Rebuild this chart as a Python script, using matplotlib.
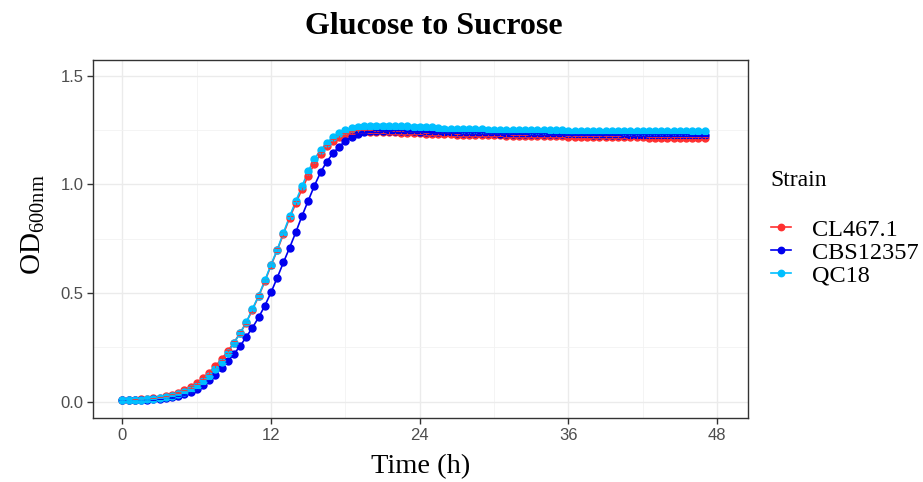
import matplotlib
matplotlib.use("Agg")
import matplotlib.pyplot as plt
from matplotlib.lines import Line2D
import numpy as np

plt.rcParams['mathtext.fontset'] = 'custom'
plt.rcParams['mathtext.rm'] = 'Liberation Serif'

# sampling every 0.5 h, 0 to 47 h
time_h = np.arange(0, 47.5, 0.5)

strains = ["CL467.1", "CBS12357", "QC18"]
colors = ["#FF3030", "#0000EE", "#00BFFF"]

od_cl467 = [0.008, 0.009, 0.010, 0.011, 0.013, 0.015, 0.019, 0.025, 0.033, 0.042,
            0.053, 0.067, 0.085, 0.108, 0.134, 0.163, 0.196, 0.232, 0.272, 0.316,
            0.364, 0.424, 0.485, 0.554, 0.627, 0.697, 0.772, 0.846, 0.913, 0.978,
            1.040, 1.095, 1.140, 1.175, 1.200, 1.220, 1.232, 1.240, 1.243, 1.244,
            1.243, 1.242, 1.241, 1.240, 1.239, 1.238, 1.236, 1.236, 1.235, 1.233,
            1.233, 1.232, 1.230, 1.230, 1.229, 1.229, 1.228, 1.227, 1.227, 1.227,
            1.226, 1.226, 1.225, 1.224, 1.224, 1.224, 1.223, 1.222, 1.222, 1.222,
            1.221, 1.221, 1.220, 1.219, 1.219, 1.219, 1.219, 1.218, 1.218, 1.217,
            1.217, 1.217, 1.216, 1.216, 1.216, 1.215, 1.215, 1.215, 1.215, 1.214,
            1.214, 1.214, 1.213, 1.213, 1.213]
od_cbs12357 = [0.007, 0.008, 0.008, 0.009, 0.010, 0.011, 0.013, 0.017, 0.021, 0.027,
               0.035, 0.044, 0.057, 0.076, 0.099, 0.125, 0.154, 0.186, 0.219, 0.256,
               0.298, 0.341, 0.388, 0.442, 0.503, 0.571, 0.641, 0.709, 0.780, 0.855,
               0.925, 0.994, 1.056, 1.105, 1.143, 1.174, 1.200, 1.220, 1.232, 1.240,
               1.244, 1.246, 1.247, 1.247, 1.246, 1.246, 1.245, 1.244, 1.243, 1.242,
               1.241, 1.240, 1.239, 1.239, 1.238, 1.237, 1.237, 1.236, 1.236, 1.235,
               1.235, 1.234, 1.234, 1.233, 1.233, 1.233, 1.232, 1.232, 1.232, 1.231,
               1.231, 1.231, 1.230, 1.230, 1.230, 1.230, 1.229, 1.229, 1.229, 1.229,
               1.229, 1.228, 1.228, 1.228, 1.228, 1.228, 1.227, 1.227, 1.227, 1.227,
               1.227, 1.227, 1.226, 1.226, 1.226]
od_qc18 = [0.006, 0.008, 0.009, 0.010, 0.011, 0.013, 0.016, 0.021, 0.027, 0.035,
           0.045, 0.057, 0.073, 0.094, 0.119, 0.149, 0.183, 0.224, 0.269, 0.315,
           0.365, 0.427, 0.488, 0.558, 0.631, 0.700, 0.777, 0.853, 0.923, 0.992,
           1.060, 1.118, 1.157, 1.190, 1.218, 1.236, 1.250, 1.258, 1.264, 1.267,
           1.268, 1.269, 1.269, 1.268, 1.268, 1.267, 1.267, 1.266, 1.265, 1.264,
           1.262, 1.259, 1.257, 1.256, 1.255, 1.254, 1.254, 1.253, 1.253, 1.252,
           1.252, 1.252, 1.251, 1.251, 1.251, 1.250, 1.250, 1.250, 1.249, 1.249,
           1.249, 1.249, 1.248, 1.248, 1.248, 1.248, 1.247, 1.247, 1.247, 1.247,
           1.247, 1.246, 1.246, 1.246, 1.246, 1.246, 1.245, 1.245, 1.245, 1.245,
           1.245, 1.245, 1.244, 1.244, 1.244]

sd_cl467 = [0.001, 0.001, 0.001, 0.001, 0.001, 0.001, 0.002, 0.002, 0.002, 0.003,
            0.003, 0.004, 0.004, 0.005, 0.005, 0.006, 0.006, 0.007, 0.007, 0.008,
            0.008, 0.009, 0.009, 0.009, 0.010, 0.010, 0.010, 0.010, 0.010, 0.010,
            0.009, 0.009, 0.008, 0.008, 0.007, 0.007, 0.006, 0.006, 0.006, 0.006,
            0.006, 0.006, 0.006, 0.006, 0.006, 0.006, 0.005, 0.005, 0.005, 0.005,
            0.005, 0.005, 0.005, 0.005, 0.005, 0.005, 0.005, 0.005, 0.005, 0.005,
            0.005, 0.005, 0.005, 0.005, 0.005, 0.005, 0.005, 0.005, 0.005, 0.005,
            0.005, 0.005, 0.005, 0.005, 0.005, 0.005, 0.005, 0.005, 0.005, 0.005,
            0.005, 0.005, 0.005, 0.005, 0.005, 0.005, 0.005, 0.005, 0.005, 0.005,
            0.005, 0.005, 0.005, 0.005, 0.005]
sd_cbs12357 = [0.001, 0.001, 0.001, 0.001, 0.001, 0.001, 0.001, 0.001, 0.002, 0.002,
               0.002, 0.002, 0.002, 0.003, 0.003, 0.003, 0.003, 0.003, 0.004, 0.004,
               0.004, 0.004, 0.004, 0.004, 0.004, 0.004, 0.004, 0.004, 0.004, 0.004,
               0.004, 0.004, 0.004, 0.004, 0.004, 0.004, 0.003, 0.003, 0.003, 0.003,
               0.003, 0.003, 0.003, 0.003, 0.003, 0.003, 0.003, 0.003, 0.003, 0.003,
               0.003, 0.003, 0.003, 0.003, 0.003, 0.003, 0.003, 0.003, 0.003, 0.003,
               0.003, 0.003, 0.003, 0.003, 0.003, 0.003, 0.003, 0.003, 0.003, 0.003,
               0.003, 0.003, 0.003, 0.003, 0.003, 0.003, 0.003, 0.003, 0.003, 0.003,
               0.003, 0.003, 0.003, 0.003, 0.003, 0.003, 0.003, 0.003, 0.003, 0.003,
               0.003, 0.003, 0.003, 0.003, 0.003]
sd_qc18 = [0.001, 0.001, 0.001, 0.001, 0.001, 0.001, 0.001, 0.002, 0.002, 0.002,
           0.002, 0.003, 0.003, 0.003, 0.003, 0.004, 0.004, 0.004, 0.004, 0.005,
           0.005, 0.005, 0.005, 0.005, 0.005, 0.005, 0.005, 0.005, 0.005, 0.005,
           0.005, 0.005, 0.005, 0.006, 0.006, 0.007, 0.008, 0.009, 0.010, 0.011,
           0.012, 0.012, 0.012, 0.012, 0.012, 0.012, 0.012, 0.012, 0.012, 0.011,
           0.011, 0.012, 0.012, 0.006, 0.005, 0.005, 0.005, 0.005, 0.005, 0.005,
           0.005, 0.005, 0.005, 0.005, 0.005, 0.005, 0.005, 0.005, 0.005, 0.005,
           0.005, 0.005, 0.005, 0.005, 0.005, 0.005, 0.005, 0.005, 0.005, 0.005,
           0.005, 0.005, 0.005, 0.005, 0.005, 0.005, 0.005, 0.005, 0.005, 0.005,
           0.005, 0.005, 0.005, 0.005, 0.005]

series = [od_cl467, od_cbs12357, od_qc18]
sds = [sd_cl467, sd_cbs12357, sd_qc18]

fig = plt.figure(figsize=(9.23, 4.82), dpi=100)
ax = fig.add_axes([0.1008, 0.1328, 0.7096, 0.7427])

# lines, then points, then error bars (like the ggplot layers)
for y, c in zip(series, colors):
    ax.plot(time_h, y, color=c, lw=1.2, zorder=3)
for y, c in zip(series, colors):
    ax.plot(time_h, y, ls='none', marker='o', ms=5, mfc=c, mec=c, zorder=4)
for y, e, c in zip(series, sds, colors):
    ax.errorbar(time_h, y, yerr=e, fmt='none', ecolor=c, elinewidth=0.6,
                capsize=2, capthick=0.6, zorder=5)

ax.set_xlim(-2.37, 50.5)
ax.set_ylim(-0.075, 1.5725)
ax.set_xticks([0, 12, 24, 36, 48])
ax.set_xticks([6, 18, 30, 42], minor=True)
ax.set_yticks([0.0, 0.5, 1.0, 1.5])
ax.set_yticklabels(["0.0", "0.5", "1.0", "1.5"])
ax.set_yticks([0.25, 0.75, 1.25], minor=True)
ax.grid(which='major', color='#EBEBEB', lw=1.0, zorder=0)
ax.grid(which='minor', color='#F2F2F2', lw=0.6, zorder=0)
ax.set_axisbelow(True)
for s in ax.spines.values():
    s.set_color('#333333')
    s.set_linewidth(1.0)
ax.tick_params(which='major', length=4, width=1.0, color='#333333',
               labelcolor='#4D4D4D', labelsize=12, pad=3)
ax.tick_params(which='minor', length=0)
for lab in ax.get_xticklabels() + ax.get_yticklabels():
    lab.set_fontfamily('Liberation Sans')

ax.set_xlabel("Time (h)", fontfamily='Liberation Serif', fontsize=20.5, labelpad=8)
ax.set_ylabel(r"OD$_{\mathrm{600nm}}$", fontfamily='Liberation Serif', fontsize=21)
ax.yaxis.set_label_coords(-0.071, 0.54)

fig.text(0.470, 0.945, "Glucose to Sucrose", ha='center', va='center',
         fontfamily='Liberation Serif', fontweight='bold', fontsize=23)

handles = [Line2D([0], [0], color=c, lw=1.2, marker='o', ms=4.6) for c in colors]
leg = fig.legend(handles, strains, loc='upper left', bbox_to_anchor=(0.8245, 0.668),
                 frameon=False, title="Strain", alignment='left',
                 prop={'family': 'Liberation Serif', 'size': 17.5},
                 handlelength=0.85, handletextpad=0.85, labelspacing=0.05,
                 borderaxespad=0)
leg.get_title().set_fontfamily('Liberation Serif')
leg.get_title().set_fontsize(17)
leg._legend_box.sep = 20

fig.savefig("out.png", dpi=100)
